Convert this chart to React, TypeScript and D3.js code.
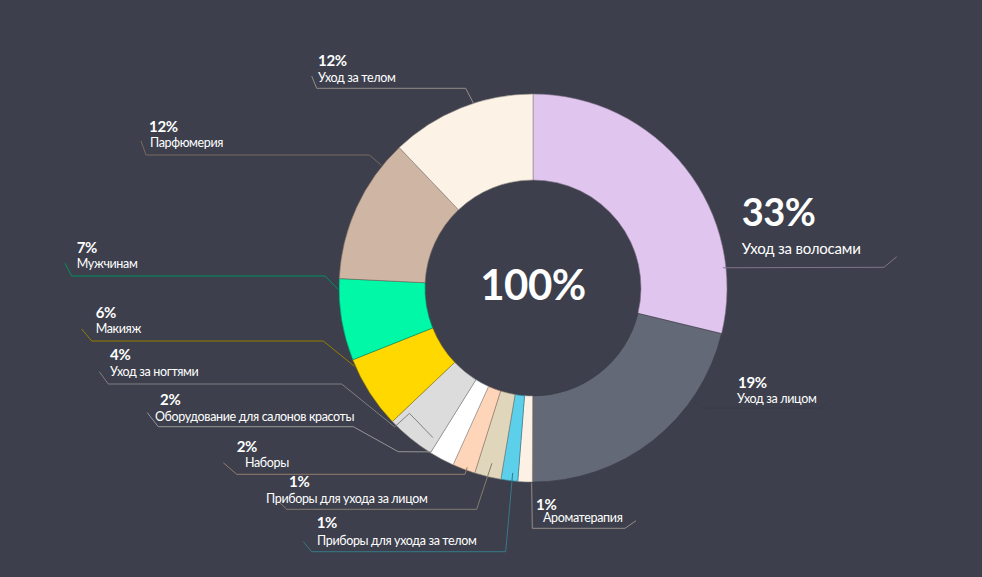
import React from "react";
import * as d3 from "d3";

const categories = [
  "Уход за волосами",
  "Уход за лицом",
  "Ароматерапия",
  "Приборы для ухода за телом",
  "Приборы для ухода за лицом",
  "Наборы",
  "Оборудование для салонов красоты",
  "Уход за ногтями",
  "Макияж",
  "Мужчинам",
  "Парфюмерия",
  "Уход за телом",
];
// slice sizes as drawn (share of the ring)
const shares = [28.75, 21.25, 1.2, 1.4, 2.2, 1.9, 2.1, 4.05, 6.05, 6.8, 12.1, 12.1];
// percentages printed on the labels
const pctLabels = ["33%", "19%", "1%", "1%", "1%", "2%", "2%", "4%", "6%", "7%", "12%", "12%"];
const totalLabel = "100%";

const colors = [
  "#e0c6ee",
  "#646978",
  "#fdf1e5",
  "#5ccfea",
  "#e0d6bc",
  "#fed5b9",
  "#ffffff",
  "#dcdcdc",
  "#ffd800",
  "#00f8a6",
  "#cfb5a3",
  "#fdf2e6",
];

type Pt = [number, number];
interface LabelLayout {
  pct: Pt;
  name: Pt;
  big?: boolean;
  pre: Pt[];
  polar: Pt[]; // [fraction within slice, radius]
  post: Pt[];
}

const layout: LabelLayout[] = [
  { pct: [741.7, 225.7], name: [741.7, 254], big: true, pre: [], polar: [[0.81, 191]], post: [[884, 267.3], [896.7, 256.7]] },
  { pct: [738, 387.7], name: [737, 403], pre: [], polar: [[0.285, 196]], post: [[706.7, 408.3], [820.7, 408.3], [830, 400]] },
  { pct: [536, 509.5], name: [543, 522], pre: [], polar: [[0.05, 195]], post: [[532.3, 528.3], [625, 528.3], [636, 520.7]] },
  { pct: [316.7, 528.3], name: [317, 545], pre: [[303.3, 541.7], [311.7, 551.7], [505.7, 551.7]], polar: [[0.35, 186]], post: [] },
  { pct: [289, 487.3], name: [266, 502.7], pre: [[277, 500], [286.7, 509.3], [476.7, 509.3]], polar: [[0.46, 180]], post: [] },
  { pct: [236.7, 451.7], name: [245, 466.7], pre: [[223.3, 462.7], [236.7, 474.3], [465, 474.3]], polar: [[0.39, 191]], post: [] },
  { pct: [160, 405], name: [155, 420.7], pre: [[147.3, 412.7], [158.3, 426.7], [353.3, 426.7], [398.3, 451.7]], polar: [[1.0, 193]], post: [] },
  { pct: [110, 360], name: [110, 376], pre: [[99.3, 371.7], [108.3, 384], [341.7, 384]], polar: [[0.89, 196], [0.87, 176], [0.13, 180]], post: [] },
  { pct: [95.7, 318.3], name: [95.7, 333.3], pre: [[81.7, 329], [91.7, 341], [323.3, 341]], polar: [[0.91, 195]], post: [] },
  { pct: [76.7, 253], name: [76.7, 268.3], pre: [[65, 263.3], [71.7, 276], [325, 276]], polar: [[0.87, 195]], post: [] },
  { pct: [149, 131.7], name: [150, 147], pre: [[141, 141], [146, 155], [369.3, 155]], polar: [[0.83, 195]], post: [] },
  { pct: [318, 66], name: [318, 81.7], pre: [[311.7, 76], [316.7, 88.3], [465.7, 88.3]], polar: [[0.59, 194.5]], post: [] },
];

const W = 982;
const H = 577;
const CX = 533;
const CY = 288;
const R_OUT = 194;
const R_IN = 108;
const BG = "#3d3f4c";
const FONT = "Lato, 'Open Sans', sans-serif";

export default function App() {
  const pie = d3.pie<number>().sort(null).value((d) => d).startAngle(0).endAngle(2 * Math.PI);
  const arcs = pie(shares);
  const arc = d3.arc<d3.PieArcDatum<number>>().innerRadius(R_IN).outerRadius(R_OUT);
  const line = d3.line<Pt>().x((d) => d[0]).y((d) => d[1]);

  const polarToXY = (a: d3.PieArcDatum<number>, t: number, r: number): Pt => {
    const ang = a.startAngle + t * (a.endAngle - a.startAngle);
    return [CX + r * Math.sin(ang), CY - r * Math.cos(ang)];
  };

  return (
    <svg
      width={W}
      height={H}
      style={{ position: "absolute", left: 0, top: 0, display: "block" }}
      fontFamily={FONT}
    >
      <rect width={W} height={H} fill={BG} />
      <g transform={`translate(${CX},${CY})`}>
        {arcs.map((a, i) => (
          <path
            key={categories[i]}
            d={arc(a) || ""}
            fill={colors[i]}
            stroke={d3.color(colors[i])!.darker(1.5).formatHex()}
            strokeWidth={0.6}
          />
        ))}
      </g>
      {arcs.map((a, i) => {
        const L = layout[i];
        const pts: Pt[] = [...L.pre, ...L.polar.map((p) => polarToXY(a, p[0], p[1])), ...L.post];
        return (
          <path
            key={"l" + i}
            d={line(pts) || ""}
            fill="none"
            stroke={d3.color(colors[i])!.darker(1.5).formatHex()}
            strokeWidth={1}
          />
        );
      })}
      {categories.map((c, i) => {
        const L = layout[i];
        return (
          <g key={"t" + i} fill="#ffffff">
            <text x={L.pct[0]} y={L.pct[1]} fontSize={L.big ? 38 : 15} fontWeight={700} letterSpacing={L.big ? -0.5 : -0.3}>
              {pctLabels[i]}
            </text>
            <text x={L.name[0]} y={L.name[1]} fontSize={L.big ? 15 : 12.5} letterSpacing={L.big ? -0.2 : -0.35}>
              {c}
            </text>
          </g>
        );
      })}
      <text x={CX} y={CY + 12} textAnchor="middle" fontSize={42} fontWeight={700} fill="#ffffff" letterSpacing={-0.5}>
        {totalLabel}
      </text>
    </svg>
  );
}
